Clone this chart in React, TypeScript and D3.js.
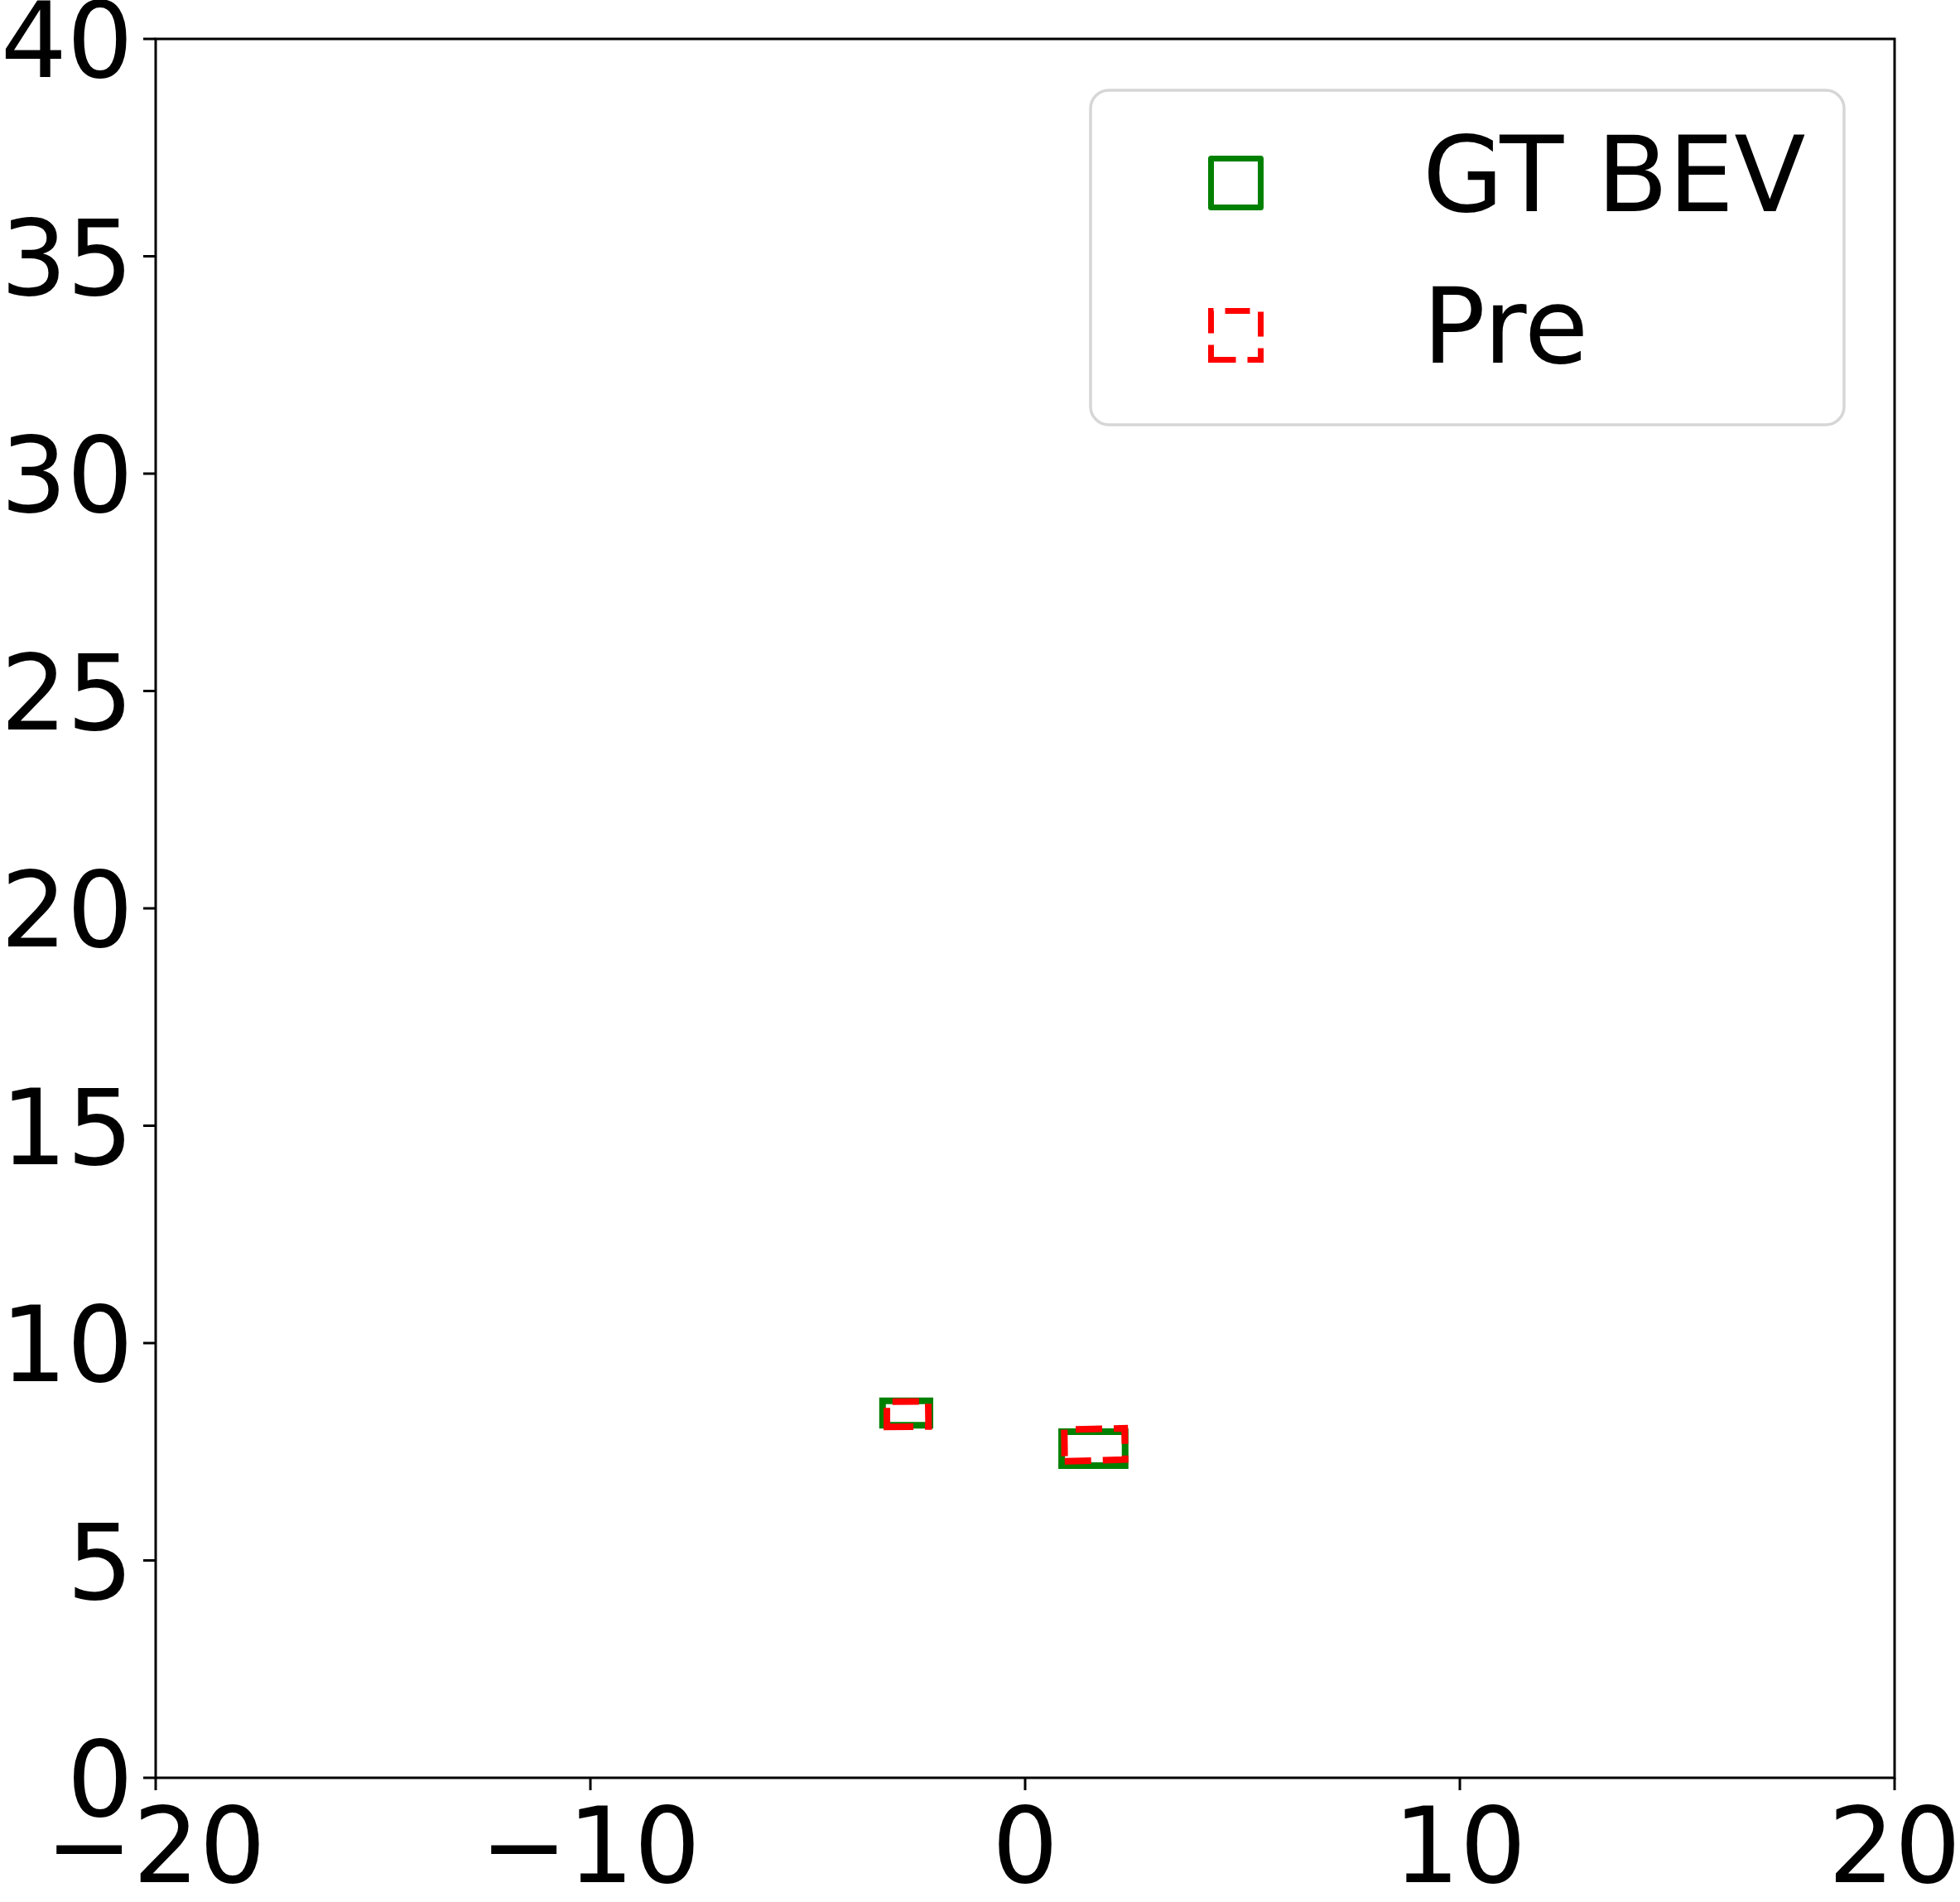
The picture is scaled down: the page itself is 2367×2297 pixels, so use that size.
import React from 'react';
import * as d3 from 'd3';

// ground truth boxes, corners in BEV metres (bottom-left, bottom-right, top-right, top-left)
const gtBoxes: [number, number][][] = [
  [[-3.28, 8.11], [-2.19, 8.11], [-2.19, 8.67], [-3.28, 8.67]],
  [[0.84, 7.18], [2.30, 7.18], [2.30, 7.96], [0.84, 7.96]],
];

// predicted boxes (slightly rotated)
const predBoxes: [number, number][][] = [
  [[-3.18, 8.07], [-2.22, 8.08], [-2.23, 8.66], [-3.18, 8.65]],
  [[0.91, 7.28], [2.30, 7.32], [2.29, 8.04], [0.90, 8.01]],
];

const xTicks = [-20, -10, 0, 10, 20];
const yTicks = [0, 5, 10, 15, 20, 25, 30, 35, 40];
const legendLabels = ['GT BEV', 'Pre'];

const W = 2367;
const H = 2297;
const FONT = 'DejaVu Sans, sans-serif';

const App = () => {
  const x = d3.scaleLinear().domain([-20, 20]).range([188, 2288]);
  const y = d3.scaleLinear().domain([0, 40]).range([2147, 47]);

  const line = d3.line<[number, number]>()
    .x((d) => x(d[0]))
    .y((d) => y(d[1]))
    .curve(d3.curveLinearClosed);

  const fmt = (v: number) => (v < 0 ? '\u2212' + Math.abs(v) : String(v));

  return (
    <div style={{ position: 'absolute', left: 0, top: 0 }}>
      <svg width={W} height={H} viewBox={`0 0 ${W} ${H}`} style={{ display: 'block', background: '#fff' }}>
        {/* boxes */}
        {gtBoxes.map((b, i) => (
          <path key={'gt' + i} d={line(b) || ''} fill="none" stroke="#008000" strokeWidth={8} />
        ))}
        {predBoxes.map((b, i) => (
          <path key={'pr' + i} d={line(b) || ''} fill="none" stroke="#ff0000" strokeWidth={8} strokeDasharray="32,14" />
        ))}

        {/* spines */}
        <rect x={188} y={47} width={2100} height={2100} fill="none" stroke="#000" strokeWidth={3} />

        {/* x axis */}
        {xTicks.map((t) => (
          <g key={'x' + t}>
            <line x1={x(t)} x2={x(t)} y1={2147} y2={2162} stroke="#000" strokeWidth={3} />
            <text x={x(t)} y={2273} textAnchor="middle" fontFamily={FONT} fontSize={126} fill="#000">{fmt(t)}</text>
          </g>
        ))}

        {/* y axis */}
        {yTicks.map((t) => (
          <g key={'y' + t}>
            <line x1={173} x2={188} y1={y(t)} y2={y(t)} stroke="#000" strokeWidth={3} />
            <text x={161} y={y(t) + 46} textAnchor="end" fontFamily={FONT} fontSize={126} fill="#000">{fmt(t)}</text>
          </g>
        ))}

        {/* legend */}
        <rect x={1317} y={109} width={910} height={404} rx={22} ry={22} fill="#fff" fillOpacity={0.8} stroke="#d6d6d6" strokeWidth={3.5} />
        <path d="M1462.5,250.5 L1522.5,250.5 L1522.5,191.5 L1462.5,191.5 Z" fill="none" stroke="#008000" strokeWidth={7} strokeLinejoin="round" />
        <path d="M1462.5,434.5 L1522.5,434.5 L1522.5,375.5 L1462.5,375.5 Z" fill="none" stroke="#ff0000" strokeWidth={7} strokeDasharray="30,14" />
        <text x={1718} y={255} fontFamily={FONT} fontSize={126} fill="#000">{legendLabels[0]}</text>
        <text x={1718} y={438} fontFamily={FONT} fontSize={126} fill="#000">{legendLabels[1]}</text>
      </svg>
    </div>
  );
};

export default App;
